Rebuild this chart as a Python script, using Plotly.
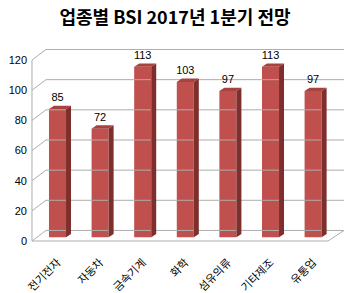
import plotly.graph_objects as go

categories = ["전기전자", "자동차", "금속기계", "화학", "섬유의류", "기타제조", "유통업"]
values = [85, 72, 113, 103, 97, 113, 97]
y_ticks = [0, 20, 40, 60, 80, 100, 120]

# 3D look parameters (in axis units)
BASE = 2.5          # bar front face sits slightly behind the front plane
BW = 0.40           # front face width
BDX, BDY = 0.117, 2.2   # bar depth offset
XF = -0.599         # front-left wall edge
XB = -0.27          # back-left wall edge
XR_FRONT = 6.35     # floor front-right corner
XR_BACK = 6.725     # back wall right edge
WDY = 7.0           # wall depth offset (vertical)

FRONT = "#C0504D"
TOP = "#A8423F"
SIDE = "#7E2F2C"
GRID = "#ADADAD"

fig = go.Figure()

# walls / gridlines
gx, gy = [], []
for t in y_ticks:
    gx += [XF, XB, XR_BACK, None]
    gy += [t, t + WDY, t + WDY, None]
gx += [XF, XF, None, XF, XR_FRONT, XR_BACK, None]
gy += [0, y_ticks[-1], None, 0, 0, WDY, None]
fig.add_trace(go.Scatter(x=gx, y=gy, mode="lines", line=dict(color=GRID, width=1),
                         hoverinfo="skip", showlegend=False))

# side faces
sx, sy = [], []
tx, ty = [], []
for i, v in enumerate(values):
    xl = i - BW / 2
    xr = i + BW / 2
    top = BASE + v
    sx += [xr, xr, xr + BDX, xr + BDX, xr, None]
    sy += [BASE, top, top + BDY, BASE + BDY, BASE, None]
    tx += [xl, xr, xr + BDX, xl + BDX, xl, None]
    ty += [top, top, top + BDY, top + BDY, top, None]
fig.add_trace(go.Scatter(x=sx, y=sy, mode="lines", fill="toself", fillcolor=SIDE,
                         line=dict(width=0, color=SIDE), hoverinfo="skip", showlegend=False))

# front faces
fig.add_trace(go.Bar(x=list(range(len(values))), y=values, base=BASE, width=BW,
                     marker=dict(color=FRONT, line=dict(width=0)), showlegend=False))

# top faces
fig.add_trace(go.Scatter(x=tx, y=ty, mode="lines", fill="toself", fillcolor=TOP,
                         line=dict(width=0, color=TOP), hoverinfo="skip", showlegend=False))

# value labels
fig.add_trace(go.Scatter(x=list(range(len(values))), y=[v + BASE + BDY + 1 for v in values],
                         mode="text", text=[str(v) for v in values], textposition="top center",
                         textfont=dict(family="Liberation Sans, Arial", size=11, color="#000000"),
                         hoverinfo="skip", showlegend=False))

fig.update_layout(
    width=350, height=293,
    margin=dict(l=28, r=4, t=40, b=45),
    paper_bgcolor="white", plot_bgcolor="white",
    title=dict(text="<b>업종별 BSI 2017년 1분기 전망</b>", x=0.5, xanchor="center",
               y=1 - 18 / 293, yanchor="middle",
               font=dict(family="Noto Sans CJK KR", size=18, color="#000000")),
    xaxis=dict(range=[-0.6925, 6.772], tickmode="array", tickvals=list(range(len(categories))),
               ticktext=categories, tickangle=-45, showgrid=False, zeroline=False,
               showline=False, ticks="", ticklabelstandoff=5, automargin=False,
               tickfont=dict(family="Noto Sans CJK KR", size=11, color="#000000")),
    yaxis=dict(range=[-4.64, 133.3], tickmode="array", tickvals=y_ticks,
               showgrid=False, zeroline=False, showline=False, ticks="", automargin=False,
               tickfont=dict(family="Liberation Sans, Arial", size=11, color="#000000")),
)

fig.write_html("out.html")
